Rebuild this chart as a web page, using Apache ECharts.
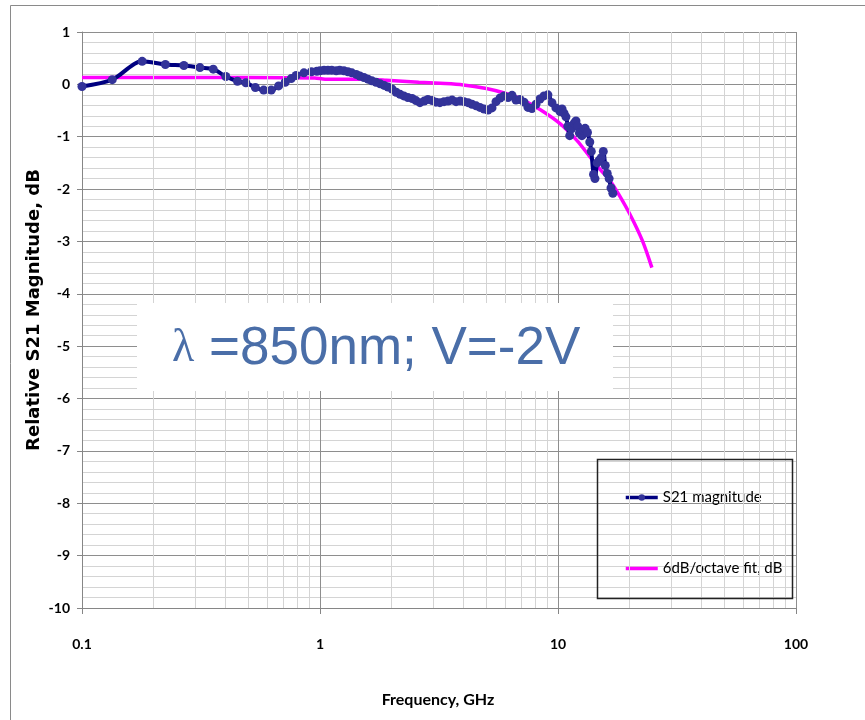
<!DOCTYPE html>
<html>
<head>
<meta charset="utf-8">
<title>S21 magnitude</title>
<script src="https://cdn.jsdelivr.net/npm/echarts/dist/echarts.min.js"></script>
<style>
  html, body { margin: 0; padding: 0; background: #fff; }
  #chart { width: 865px; height: 720px; }
</style>
</head>
<body>
<div id="chart"></div>
<script>
// measured S21, GHz / dB
const s21Freq = [
  0.1, 0.134, 0.179, 0.224, 0.268, 0.313, 0.356, 0.402, 0.45, 0.488,
  0.535, 0.58, 0.624, 0.67, 0.714, 0.757, 0.794, 0.856, 0.92, 0.97,
  1.00, 1.04, 1.08, 1.12, 1.17, 1.21, 1.26, 1.31, 1.36, 1.42,
  1.47, 1.53, 1.59, 1.65, 1.72, 1.79, 1.86, 1.93, 2.01, 2.09,
  2.17, 2.25, 2.34, 2.44, 2.53, 2.63, 2.74, 2.84, 2.96, 3.07,
  3.19, 3.32, 3.45, 3.59, 3.73, 3.88, 4.03, 4.19, 4.35, 4.53,
  4.70, 4.89, 5.08, 5.28, 5.49, 5.71, 5.93, 6.17, 6.41, 6.66,
  6.92, 7.20, 7.48, 7.77, 8.08, 8.40, 8.73, 9.07, 9.43, 9.80,
  10.2, 10.4, 10.6, 10.8, 11.0, 11.2, 11.4, 11.7, 11.9, 12.1,
  12.3, 12.6, 12.8, 13.0, 13.3, 13.6, 13.8, 14.1, 14.3, 14.6,
  14.9, 15.2, 15.5, 15.8, 16.1, 16.4, 16.7, 17.0
]
const s21Mag = [
  -0.04, 0.09, 0.44, 0.38, 0.36, 0.32, 0.29, 0.15, 0.06, 0.03,
  -0.06, -0.11, -0.11, -0.03, 0.04, 0.11, 0.17, 0.22, 0.24, 0.25,
  0.26, 0.27, 0.27, 0.27, 0.26, 0.27, 0.26, 0.24, 0.22, 0.19,
  0.16, 0.13, 0.10, 0.07, 0.04, 0.01, -0.02, -0.05, -0.09, -0.15,
  -0.19, -0.22, -0.25, -0.27, -0.31, -0.35, -0.32, -0.29, -0.31, -0.34,
  -0.35, -0.33, -0.32, -0.30, -0.33, -0.32, -0.33, -0.35, -0.38, -0.41,
  -0.44, -0.47, -0.49, -0.45, -0.33, -0.26, -0.22, -0.25, -0.21, -0.30,
  -0.29, -0.34, -0.44, -0.46, -0.38, -0.28, -0.22, -0.20, -0.35, -0.45,
  -0.52, -0.47, -0.55, -0.62, -0.80, -0.98, -0.85, -0.74, -0.70, -0.80,
  -0.93, -0.98, -0.88, -0.84, -0.92, -1.10, -1.28, -1.72, -1.80, -1.50,
  -1.45, -1.40, -1.28, -1.55, -1.70, -1.80, -1.98, -2.08
]

// 6 dB/octave fit
const fitFreq = [0.1, 0.5, 0.95, 1.05, 1.5, 1.9, 2.6, 3.2, 4.0, 5.0, 6.0, 7.0, 8.4, 10.2, 12, 13.6, 15, 16.6, 18, 20, 22.6, 24.8]
const fitMag = [0.13, 0.13, 0.12, 0.10, 0.10, 0.08, 0.04, 0.02, -0.01, -0.08, -0.17, -0.28, -0.48, -0.75, -1.07, -1.38, -1.62, -1.85, -2.1, -2.47, -2.98, -3.5]

const seriesNames = ['S21 magnitude', '6dB/octave fit, dB']

// log minor grid lines 2..9 in each decade
const minorFreqs = []
;[0.1, 1, 10].forEach(d => {
  for (let k = 2; k <= 9; k++) minorFreqs.push(k * d)
})

const chart = echarts.init(document.getElementById('chart'))

const labelFont = 'Lato, "Noto Sans", sans-serif'

const option = {
  animation: false,
  grid: { left: 82, right: 69, top: 32, bottom: 112 },
  xAxis: {
    type: 'log',
    logBase: 10,
    min: 0.1,
    max: 100,
    axisLine: { show: true, onZero: false, lineStyle: { color: '#868686' } },
    axisTick: { show: true, length: 6, lineStyle: { color: '#868686' } },
    axisLabel: {
      margin: 29,
      color: '#000',
      fontFamily: labelFont,
      fontWeight: 'bold',
      fontSize: 14
    },
    splitLine: { show: true, lineStyle: { color: '#8e8e8e', width: 1 } }
  },
  yAxis: {
    type: 'value',
    min: -10,
    max: 1,
    interval: 1,
    axisLine: { show: true, onZero: false, lineStyle: { color: '#868686' } },
    axisTick: { show: true, length: 5, lineStyle: { color: '#868686' } },
    axisLabel: {
      margin: 12,
      color: '#000',
      fontFamily: labelFont,
      fontWeight: 'bold',
      fontSize: 14
    },
    splitLine: { show: true, lineStyle: { color: '#8e8e8e', width: 1 } },
    minorTick: { show: false, splitNumber: 5 },
    minorSplitLine: { show: true, lineStyle: { color: '#d4d4d4', width: 1 } }
  },
  legend: {
    orient: 'vertical',
    left: 619,
    top: 485,
    itemGap: 56,
    itemWidth: 32,
    itemHeight: 8,
    lineStyle: { width: 3.5 },
    data: [
      { name: seriesNames[0] },
      { name: seriesNames[1], itemStyle: { opacity: 0 } }
    ],
    textStyle: { color: '#000', fontFamily: labelFont, fontSize: 15 }
  },
  series: [
    {
      // minor vertical grid
      type: 'line',
      data: [],
      silent: true,
      z: 1,
      markLine: {
        silent: true,
        symbol: ['none', 'none'],
        label: { show: false },
        lineStyle: { color: '#d4d4d4', type: 'solid', width: 1 },
        emphasis: { disabled: true },
        data: minorFreqs.map(f => ({ xAxis: f }))
      }
    },
    {
      name: seriesNames[1],
      type: 'line',
      smooth: 0.3,
      showSymbol: false,
      symbol: 'none',
      z: 3,
      lineStyle: { color: '#ff00ff', width: 3.5 },
      itemStyle: { color: '#ff00ff' },
      data: fitFreq.map((f, i) => [f, fitMag[i]])
    },
    {
      name: seriesNames[0],
      type: 'line',
      smooth: 0.3,
      symbol: 'circle',
      symbolSize: 9,
      z: 4,
      lineStyle: { color: '#000080', width: 4 },
      itemStyle: { color: '#333399' },
      data: s21Freq.map((f, i) => [f, s21Mag[i]])
    }
  ],
  graphic: [
    {
      // chart area border
      type: 'rect',
      z: 100,
      shape: { x: 10.5, y: 5.5, width: 870, height: 730 },
      style: { fill: 'none', stroke: '#8a8a8a', lineWidth: 1 }
    },
    {
      type: 'rect',
      z: 100,
      shape: { x: 137, y: 303, width: 476, height: 88 },
      style: { fill: '#fff' }
    },
    {
      type: 'text',
      z: 101,
      x: 172,
      y: 349,
      style: {
        text: '{l|λ} =850nm; V=-2V',
        fill: '#4a6ea8',
        font: '53px "Liberation Sans", Arial, sans-serif',
        verticalAlign: 'middle',
        rich: {
          l: { fontFamily: '"Liberation Serif", "DejaVu Serif", serif', fontSize: 46, fill: '#4a6ea8' }
        }
      }
    },
    {
      // legend box
      type: 'rect',
      z: 100,
      shape: { x: 597.5, y: 459.5, width: 195, height: 139 },
      style: { fill: 'none', stroke: '#222', lineWidth: 1.5 }
    },
    {
      type: 'text',
      z: 101,
      x: 34,
      y: 310,
      rotation: Math.PI / 2,
      style: {
        text: 'Relative S21 Magnitude, dB',
        fill: '#000',
        font: 'bold 18px "DejaVu Sans", sans-serif',
        align: 'center',
        verticalAlign: 'middle'
      }
    },
    {
      type: 'text',
      z: 101,
      x: 438,
      y: 700,
      style: {
        text: 'Frequency, GHz',
        fill: '#000',
        font: 'bold 16px Lato, "Noto Sans", sans-serif',
        align: 'center',
        verticalAlign: 'middle'
      }
    }
  ]
}

chart.setOption(option)
</script>
</body>
</html>
